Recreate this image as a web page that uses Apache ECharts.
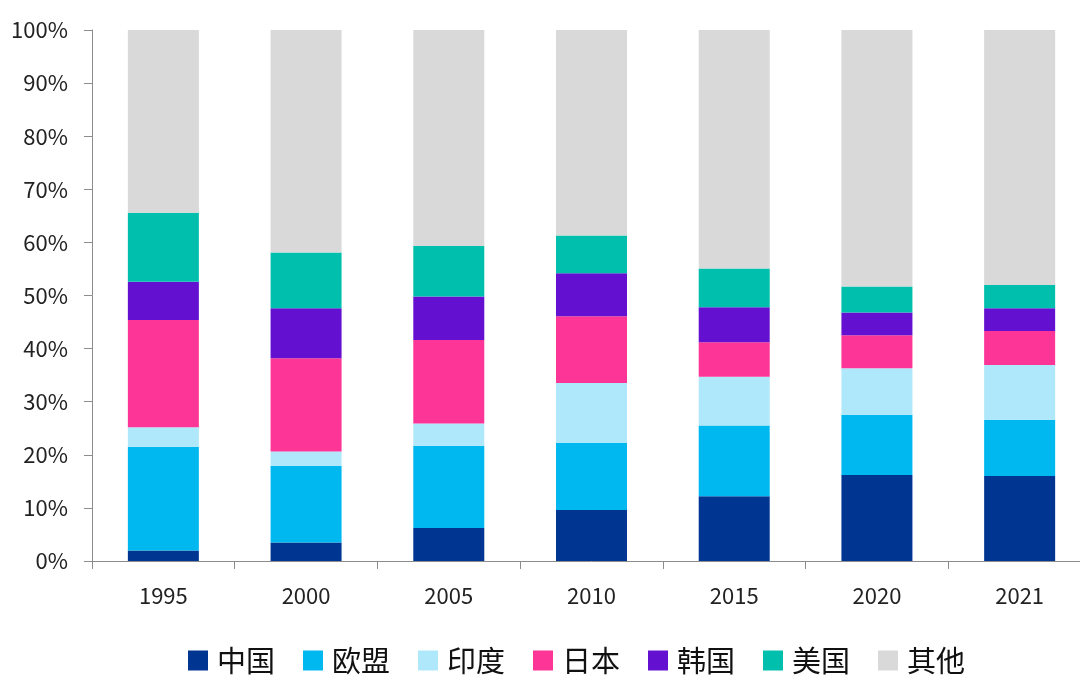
<!DOCTYPE html>
<html><head><meta charset="utf-8">
<script src="https://cdn.jsdelivr.net/npm/echarts@6/dist/echarts.min.js"></script>
<style>html,body{margin:0;padding:0;background:#fff;overflow:hidden;width:1080px;height:692px;}#c{width:1100px;height:692px;}</style>
</head><body><div id="c"></div>
<script>
var categories = ['1995','2000','2005','2010','2015','2020','2021'];
var seriesNames = ['中国','欧盟','印度','日本','韩国','美国','其他'];
var china = [2.0, 3.5, 6.2, 9.6, 12.2, 16.2, 16.0];
var eu    = [19.5, 14.4, 15.5, 12.6, 13.3, 11.3, 10.6];
var india = [3.7, 2.7, 4.2, 11.3, 9.2, 8.8, 10.3];
var japan = [20.2, 17.6, 15.7, 12.6, 6.5, 6.2, 6.4];
var korea = [7.2, 9.4, 8.2, 8.1, 6.6, 4.3, 4.3];
var usa   = [13.0, 10.5, 9.5, 7.1, 7.3, 4.9, 4.4];
var other = [34.4, 41.9, 40.7, 38.7, 44.9, 48.3, 48.0];
var colors = ['#003591','#00b8f0','#b0e8fb','#fd3597','#6410d0','#00bfac','#d9d9d9'];
var data = [china, eu, india, japan, korea, usa, other];
var font = '"Noto Sans CJK SC", "Noto Sans", sans-serif';
var chart = echarts.init(document.getElementById('c'));
chart.setOption({
  animation: false,
  textStyle: {fontFamily: font},
  grid: {left: 92, top: 30, width: 999, bottom: 131, containLabel: false},
  legend: {
    bottom: 12, left: 183, itemWidth: 20, itemHeight: 20, itemGap: 28, icon: 'rect',
    textStyle: {fontSize: 29, color: '#111', fontFamily: font, padding: [0, 0, 0, 4]},
    data: seriesNames
  },
  xAxis: {
    type: 'category', data: categories,
    axisLine: {lineStyle: {color: '#8c8c8c'}},
    axisTick: {show: true, alignWithLabel: false, length: 8, lineStyle: {color: '#8c8c8c'}},
    axisLabel: {fontSize: 22, color: '#222', margin: 24, fontFamily: font}
  },
  yAxis: {
    type: 'value', min: 0, max: 100, interval: 10,
    axisLine: {show: true, lineStyle: {color: '#8c8c8c'}},
    axisTick: {show: true, length: 8, lineStyle: {color: '#8c8c8c'}},
    splitLine: {show: false},
    axisLabel: {fontSize: 22, color: '#222', margin: 24, formatter: '{value}%', fontFamily: font}
  },
  color: colors,
  series: seriesNames.map(function(n, i){
    return {name: n, type: 'bar', stack: 'total', barWidth: 71, data: data[i], itemStyle: {color: colors[i]}};
  })
});
</script></body></html>
